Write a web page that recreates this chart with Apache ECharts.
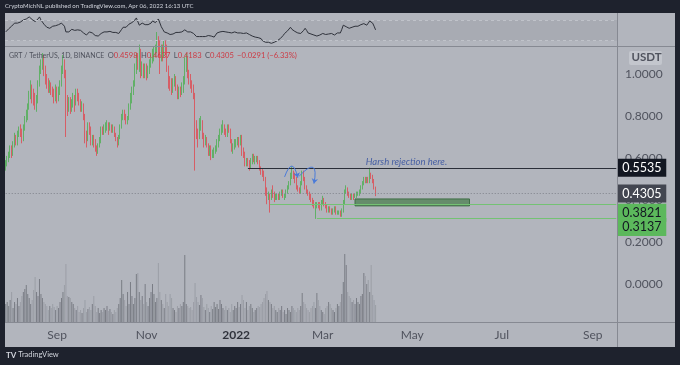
<!DOCTYPE html>
<html><head><meta charset="utf-8">
<script src="https://cdn.jsdelivr.net/npm/echarts@6/dist/echarts.min.js"></script>
<style>html,body{margin:0;padding:0;background:#1e222d;}#c{width:680px;height:365px;}</style>
</head><body><div id="c"></div>
<script>
// ---------- DATA ----------
const startDate = '2021-07-28';
const axisEndDate = '2022-09-17';
const firstOpen = 0.55;
const closes = [
0.57,0.59,0.62,0.64,
0.62,0.66,0.70,0.68,0.71,0.73,0.72,0.69,0.75,0.78,0.80,0.84,0.90,0.93,0.90,0.89,0.86,0.88,0.95,1.02,1.04,1.07,1.01,0.98,0.96,0.93,0.95,0.92,0.91,0.89,0.93,
0.88,0.92,0.95,1.02,1.05,1.00,0.86,0.84,0.87,0.83,0.86,0.89,0.86,0.91,0.89,0.87,0.84,0.85,0.80,0.70,0.69,0.75,0.73,0.68,0.69,0.67,0.64,0.63,0.66,0.69,
0.73,0.72,0.74,0.75,0.76,0.74,0.75,0.73,0.74,0.71,0.69,0.67,0.70,0.75,0.79,0.81,0.80,0.77,0.79,0.84,0.88,0.92,0.95,1.02,1.07,1.05,1.10,1.01,1.03,1.00,1.03,
1.00,1.02,1.05,1.07,1.09,1.10,1.12,1.15,1.11,1.08,1.12,1.10,1.13,1.11,1.03,0.96,0.95,0.93,0.96,0.97,0.93,0.90,0.92,0.91,0.93,0.96,1.04,1.06,1.00,0.98,
0.95,0.93,0.90,0.75,0.72,0.70,0.76,0.77,0.70,0.67,0.69,0.66,0.63,0.64,0.61,0.62,0.63,0.64,0.67,0.69,0.72,0.73,0.75,0.72,0.71,0.74,0.73,0.68,0.64,0.65,0.66,
0.67,0.68,0.67,0.69,0.63,0.62,0.58,0.58,0.57,0.56,0.58,0.60,0.59,0.59,0.60,0.58,0.55,0.53,0.52,0.50,0.45,0.41,0.42,0.41,0.43,0.42,0.41,0.41,0.42,0.41,0.43,
0.44,0.42,0.42,0.44,0.46,0.48,0.52,0.53,0.51,0.50,0.46,0.45,0.44,0.48,0.53,0.50,0.46,0.44,0.43,0.41,0.40,0.39,0.37,0.37,0.38,0.37,0.36,0.39,
0.40,0.38,0.37,0.35,0.36,0.35,0.34,0.35,0.36,0.34,0.34,0.34,0.33,0.35,0.39,0.44,0.45,0.43,0.42,0.41,0.42,0.41,0.42,0.43,0.43,0.44,0.46,0.48,0.50,0.49,0.50,
0.49,0.52,0.51,0.49,0.4598,0.4305];
const highs = [
0.59,0.61,0.63,0.66,
0.66,0.68,0.72,0.71,0.73,0.75,0.76,0.74,0.76,0.80,0.83,0.86,0.92,0.97,0.95,0.93,0.91,0.90,0.97,1.04,1.07,1.10,1.09,1.04,1.00,0.98,0.97,0.96,0.94,0.93,0.95,
0.94,0.94,0.97,1.04,1.09,1.07,1.02,0.90,0.89,0.89,0.88,0.91,0.90,0.93,0.93,0.91,0.88,0.87,0.86,0.81,0.73,0.77,0.77,0.75,0.71,0.71,0.69,0.66,0.67,0.70,
0.75,0.75,0.76,0.77,0.78,0.77,0.77,0.76,0.76,0.75,0.72,0.70,0.71,0.76,0.81,0.83,0.83,0.81,0.80,0.86,0.91,0.94,0.97,1.05,1.10,1.10,1.14,1.12,1.06,1.05,1.05,
1.05,1.04,1.07,1.09,1.12,1.13,1.14,1.20,1.18,1.16,1.14,1.14,1.16,1.16,1.14,1.04,0.99,0.98,0.98,1.00,0.99,0.95,0.94,0.94,0.96,0.99,1.08,1.10,1.08,1.02,
1.00,0.97,0.95,0.91,0.78,0.74,0.79,0.80,0.78,0.72,0.71,0.70,0.67,0.66,0.66,0.64,0.65,0.66,0.69,0.71,0.74,0.76,0.78,0.76,0.74,0.76,0.76,0.74,0.69,0.67,0.69,
0.69,0.70,0.70,0.71,0.71,0.65,0.63,0.60,0.60,0.59,0.60,0.62,0.62,0.61,0.61,0.61,0.59,0.56,0.55,0.54,0.51,0.46,0.44,0.43,0.45,0.47,0.44,0.43,0.43,0.43,0.44,
0.45,0.45,0.43,0.45,0.47,0.49,0.53,0.56,0.54,0.53,0.51,0.47,0.46,0.49,0.54,0.54,0.51,0.47,0.45,0.44,0.43,0.41,0.40,0.39,0.39,0.39,0.39,0.40,
0.42,0.41,0.39,0.38,0.37,0.37,0.36,0.36,0.37,0.37,0.35,0.35,0.35,0.36,0.40,0.45,0.47,0.46,0.44,0.43,0.43,0.43,0.43,0.44,0.44,0.45,0.47,0.49,0.51,0.51,0.51,
0.51,0.5535,0.53,0.52,0.50,0.4637];
const lows = [
0.54,0.56,0.58,0.60,
0.60,0.61,0.65,0.66,0.66,0.70,0.70,0.67,0.68,0.73,0.77,0.78,0.83,0.88,0.86,0.85,0.83,0.82,0.86,0.94,1.00,1.02,0.99,0.95,0.93,0.91,0.91,0.90,0.89,0.86,0.87,
0.86,0.87,0.90,0.94,1.00,0.98,0.70,0.80,0.82,0.81,0.82,0.84,0.82,0.85,0.87,0.85,0.82,0.82,0.78,0.67,0.65,0.68,0.71,0.66,0.66,0.65,0.63,0.61,0.62,0.65,
0.67,0.71,0.71,0.72,0.73,0.71,0.73,0.72,0.72,0.70,0.68,0.65,0.66,0.69,0.74,0.78,0.78,0.76,0.76,0.78,0.83,0.86,0.90,0.94,1.00,1.02,1.01,0.98,0.99,0.98,0.98,
0.97,0.98,1.00,1.03,1.05,1.06,1.08,1.10,1.08,1.00,1.06,1.06,1.08,1.09,1.01,0.93,0.92,0.90,0.91,0.94,0.92,0.88,0.88,0.89,0.90,0.91,0.95,1.01,0.98,0.95,
0.93,0.91,0.88,0.54,0.69,0.65,0.69,0.73,0.69,0.65,0.66,0.65,0.61,0.61,0.59,0.60,0.60,0.62,0.63,0.65,0.68,0.71,0.72,0.71,0.70,0.70,0.72,0.67,0.63,0.62,0.64,
0.65,0.66,0.65,0.66,0.61,0.60,0.56,0.56,0.56,0.54,0.55,0.57,0.58,0.57,0.58,0.57,0.54,0.52,0.51,0.49,0.42,0.38,0.40,0.34,0.40,0.41,0.39,0.40,0.40,0.40,0.40,
0.42,0.41,0.40,0.41,0.43,0.45,0.47,0.50,0.50,0.48,0.45,0.44,0.43,0.43,0.47,0.49,0.45,0.43,0.42,0.40,0.39,0.37,0.36,0.31,0.36,0.36,0.35,0.35,
0.38,0.37,0.36,0.34,0.34,0.34,0.33,0.33,0.34,0.33,0.33,0.33,0.32,0.32,0.34,0.38,0.43,0.42,0.41,0.40,0.40,0.40,0.41,0.41,0.42,0.42,0.43,0.45,0.47,0.48,0.48,
0.48,0.48,0.50,0.48,0.45,0.4183];
const volumes = [
18,20,16,22,30,14,20,18,24,16, 20,26,30,33,37,28,24,18,22,32, 45,30,26,43,28,24,20,18,16,12,
16,14,18,15,12,16,14,20,24,30, 37,58,26,25,24,20,18,14,12,16, 10,12,9,14,22,10,13,15,12,18,
26,16,10,14,9,12,10,14,12,16, 11,13,10,8,12,10,14,18,24,42, 28,22,16,30,18,40,26,18,24,48,
49,30,22,26,18,38,20,16,24,30, 38,28,20,24,59,30,22,18,14,28, 20,16,28,24,14,12,10,16,14,18,
16,20,67,18,16,14,15,12,20,39, 25,20,17,27,24,15,12,18,14,10, 16,13,20,15,18,13,22,18,14,12,
16,12,14,10,18,12,16,14,20,15, 18,27,22,14,20,12,16,18,14,10, 12,14,16,15,18,20,24,28,31,22,
20,18,14,16,12,10,14,12,16,10, 12,8,14,12,10,16,14,12,10,14, 12,16,29,20,18,14,12,10,14,16,
20,14,29,22,16,12,10,8,14,16, 20,18,14,12,10,14,18,16,20,28, 40,68,57,30,26,24,20,22,18,24,
20,18,26,28,49,46,38,42,30,57, 27,22,17];
const rsi = [
47,50,53,56,58,61,64,62,64,65, 66,68,70,73,72,74,76,73,71,70, 67,68,72,76,70,66,62,59,56,55,
54,56,58,57,59,60,61,62,64,66, 58,47,48,47,50,52,53,50,49,51, 54,50,47,45,42,41,44,47,46,45,
42,40,37,39,41,44,47,47,46,47, 48,48,47,46,47,46,45,44,47,52, 56,57,56,58,62,64,65,66,70,74,
76,60,57,64,62,61,62,61,60,64, 68,67,65,66,72,74,57,52,47,46, 45,43,42,41,43,45,46,47,46,47,
47,49,51,49,47,48,47,46,44,41, 38,37,38,39,38,37,38,41,40,39, 39,38,37,41,45,46,47,48,48,49,
47,47,46,45,45,46,47,46,45,44, 45,45,44,45,45,44,42,41,39,37, 37,37,36,35,34,30,28,27,27,27,
26,25,26,27,28,30,31,34,37,40, 44,47,49,52,56,52,49,48,46,45, 45,44,45,50,54,50,45,44,43,42,
41,40,39,40,41,43,44,45,42,41, 43,45,44,42,41,43,45,44,45,52, 60,58,57,55,54,55,56,57,58,60,
58,57,61,64,63,61,60,64,68,66, 64,58,51];
const rsiBand = [30, 70];
const resistance = {from: '2022-01-09', price: 0.5535};
const supports = [{from: '2022-01-24', price: 0.3821}, {from: '2022-02-25', price: 0.3137}];
const zone = {from: '2022-03-23', to: '2022-06-09', top: 0.405, bottom: 0.372};
const arrows = [[['2022-02-03', 0.510], ['2022-02-12', 0.506]], [['2022-02-13', 0.514], ['2022-02-23', 0.478]]];
const note = {date: '2022-04-27', price: 0.581, text: 'Harsh rejection here.'};
const monthNames = ['Jan','Feb','Mar','Apr','May','Jun','Jul','Aug','Sep','Oct','Nov','Dec'];
const labelMonths = [1, 3, 5, 7, 9, 11];
const headerText = 'CryptoMichNL published on TradingView.com, Apr 06, 2022 16:13 UTC';
const symbolText = 'GRT / TetherUS, 1D, BINANCE';
const ohlcText = ['O','0.4598','H','0.4637','L','0.4183','C','0.4305','−0.0291 (−6.33%)'];

// ---------- BUILD ----------
function buildDates(s, e) {
  const out = []; let t = Date.parse(s + 'T00:00:00Z'); const end = Date.parse(e + 'T00:00:00Z');
  while (t <= end) { out.push(new Date(t).toISOString().slice(0, 10)); t += 86400000; }
  return out;
}
const dates = buildDates(startDate, axisEndDate);
const idx = d => dates.indexOf(d);
const lastIdx = dates.length - 1;
const opens = closes.map((c, i) => i === 0 ? firstOpen : closes[i - 1]);
const candles = closes.map((c, i) => [opens[i], c, lows[i], highs[i]]);
const lastClose = closes[closes.length - 1];
const volData = volumes.map((v, i) => ({value: v, itemStyle: {color: closes[i] >= opens[i] ? '#7a7d85' : '#9b9ea6'}}));

const FONT = 'Lato, "Noto Sans", sans-serif';
const UP = '#4caf50', DOWN = '#e0474f';
function tag(price, bg, fg, va) {
  return {show: true, position: 'end', distance: 1, formatter: price.toFixed(4),
    backgroundColor: bg, color: fg, fontSize: 12.5, fontFamily: FONT, padding: [2, 4, 2, 5], width: 40,
    lineHeight: 14, align: 'left', verticalAlign: va || 'middle'};
}
function levelLine(fromIndex, price, color, type, label) {
  return [{coord: [fromIndex, price], lineStyle: {color: color, type: type, width: 1}, label: label},
          {coord: [lastIdx, price], lineStyle: {color: color, type: type, width: 1}, label: label}];
}

const option = {
  backgroundColor: '#1e222d',
  animation: false,
  grid: [
    {left: 5, right: 63, top: 47, bottom: 43},
    {left: 5, right: 63, top: 240, bottom: 43},
    {left: 5, right: 63, top: 14, height: 32}
  ],
  xAxis: [
    {type: 'category', gridIndex: 0, data: dates, boundaryGap: true,
      axisLine: {show: false}, axisTick: {show: false}, splitLine: {show: false},
      axisLabel: {
        interval: (i, v) => v.slice(8) === '01' && labelMonths.includes(+v.slice(5, 7)),
        formatter: v => { const m = +v.slice(5, 7); return m === 1 ? '{y|' + v.slice(0, 4) + '}' : monthNames[m - 1]; },
        color: '#50535e', fontSize: 12, fontFamily: FONT, margin: 7,
        rich: {y: {color: '#2f323b', fontSize: 12, fontWeight: 'bold', fontFamily: FONT}}
      }},
    {type: 'category', gridIndex: 1, data: dates, show: false},
    {type: 'category', gridIndex: 2, data: dates, show: false}
  ],
  yAxis: [
    {type: 'value', gridIndex: 0, position: 'right', min: -0.181, max: 1.1286, splitNumber: 7, scale: false,
      axisLine: {show: false}, axisTick: {show: false}, splitLine: {show: false},
      axisLabel: {formatter: v => v.toFixed(4), color: '#50535e', fontSize: 12, fontFamily: FONT, margin: 8,
        showMinLabel: false, showMaxLabel: false}},
    {type: 'value', gridIndex: 1, min: 0, max: 82, show: false},
    {type: 'value', gridIndex: 2, min: 19.8, max: 81.6, show: false}
  ],
  series: [
    {type: 'bar', name: 'Volume', xAxisIndex: 1, yAxisIndex: 1, data: volData, barWidth: 1, z: 1},
    {type: 'candlestick', name: 'GRTUSDT', xAxisIndex: 0, yAxisIndex: 0, data: candles, barMaxWidth: 1, clip: true, z: 3,
      itemStyle: {color: UP, color0: DOWN, borderColor: UP, borderColor0: DOWN, borderWidth: 0.8},
      markLine: {silent: true, symbol: ['none', 'none'], animation: false, z: 5,
        data: [
          levelLine(0, lastClose, '#7f828b', [1, 2], tag(lastClose, '#434651', '#ffffff')),
          levelLine(idx(resistance.from), resistance.price, '#2a2e39', 'solid', tag(resistance.price, '#131722', '#ffffff')),
          levelLine(idx(supports[0].from), supports[0].price, '#74c274', 'solid', tag(supports[0].price, '#5cb85c', '#131722', 'top')),
          levelLine(idx(supports[1].from), supports[1].price, '#74c274', 'solid', tag(supports[1].price, '#5cb85c', '#131722', 'top'))
        ]},
      markArea: {silent: true, data: [[
        {coord: [idx(zone.from), zone.top], itemStyle: {color: 'rgba(70,125,75,0.72)', borderColor: '#3f6f45', borderWidth: 1}},
        {coord: [idx(zone.to), zone.bottom]}]]}
    },
    {type: 'lines', coordinateSystem: 'cartesian2d', xAxisIndex: 0, yAxisIndex: 0, z: 6, silent: true,
      symbol: ['none', 'arrow'], symbolSize: 5,
      lineStyle: {color: '#4a7bd9', width: 1, curveness: 1.7, opacity: 1},
      data: arrows.map(a => ({coords: a.map(p => [idx(p[0]), p[1]])}))},
    {type: 'scatter', xAxisIndex: 0, yAxisIndex: 0, symbolSize: 0, silent: true, z: 6,
      data: [[idx(note.date), note.price]],
      label: {show: true, position: 'inside', formatter: note.text, color: '#2c4a9e', fontStyle: 'italic', fontSize: 9.5, fontFamily: FONT}},
    {type: 'line', name: 'RSI', xAxisIndex: 2, yAxisIndex: 2, data: rsi, symbol: 'none', z: 4,
      lineStyle: {color: '#2f323b', width: 1},
      markArea: {silent: true, data: [[{yAxis: rsiBand[1], itemStyle: {color: 'rgba(0,0,0,0.05)'}}, {yAxis: rsiBand[0]}]]},
      markLine: {silent: true, symbol: ['none', 'none'], label: {show: false},
        lineStyle: {color: '#c0c3ca', type: [3, 3], width: 1},
        data: [{yAxis: rsiBand[1]}, {yAxis: rsiBand[0]}]}}
  ],
  graphic: [
    {type: 'rect', z: -10, silent: true, shape: {x: 5, y: 13, width: 670, height: 334}, style: {fill: '#b2b5bd'}},
    {type: 'line', z: 10, silent: true, shape: {x1: 617.5, y1: 13, x2: 617.5, y2: 347}, style: {stroke: '#868992', lineWidth: 1}},
    {type: 'line', z: 10, silent: true, shape: {x1: 5, y1: 46.5, x2: 675, y2: 46.5}, style: {stroke: '#868992', lineWidth: 1}},
    {type: 'line', z: 10, silent: true, shape: {x1: 5, y1: 322.5, x2: 675, y2: 322.5}, style: {stroke: '#868992', lineWidth: 1}},
    {type: 'text', z: 10, silent: true, left: 5, top: 3.5, style: {text: headerText, fill: '#d1d4dc', font: '6px ' + FONT}},
    {type: 'rect', z: 10, silent: true, shape: {x: 629, y: 51, width: 33, height: 14, r: 2}, style: {fill: '#c3c6cd'}},
    {type: 'text', z: 11, silent: true, left: 631.5, top: 51.5, style: {text: 'USDT', fill: '#50535e', font: 'bold 11.5px ' + FONT}},
    {type: 'text', z: 11, silent: true, left: 9, top: 50, style: {
      text: '{s|' + symbolText + '} {l|' + ohlcText[0] + '}{v|' + ohlcText[1] + '} {l|' + ohlcText[2] + '}{v|' + ohlcText[3] + '} {l|' + ohlcText[4] + '}{v|' + ohlcText[5] + '} {l|' + ohlcText[6] + '}{v|' + ohlcText[7] + '} {v|' + ohlcText[8] + '}',
      rich: {s: {fill: '#50535e', font: '7px ' + FONT}, l: {fill: '#50535e', font: '7.6px ' + FONT}, v: {fill: '#cc3a44', font: '7.6px ' + FONT}}}},
    {type: 'text', z: 10, silent: true, left: 6, top: 351, style: {
      text: '{b|TV} TradingView', fill: '#d1d4dc', font: '7.5px ' + FONT,
      rich: {b: {fill: '#d1d4dc', font: 'bold 8px ' + FONT}}}}
  ]
};
const chart = echarts.init(document.getElementById('c'));
chart.setOption(option);
</script></body></html>
